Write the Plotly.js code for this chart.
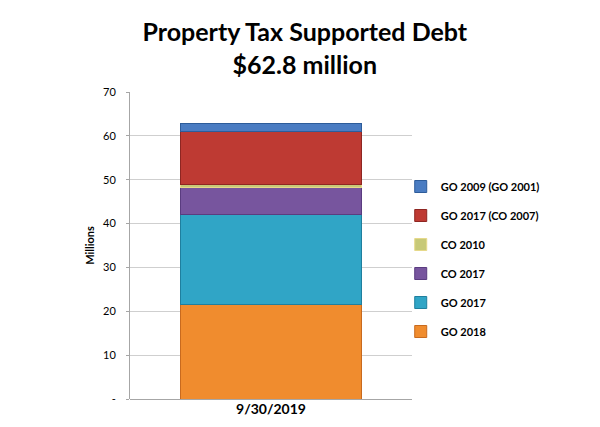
<!DOCTYPE html>
<html><head><meta charset="utf-8">
<script src="https://cdn.plot.ly/plotly-3.0.1.min.js"></script>
<style>html,body{margin:0;padding:0;background:#fff}#chart{width:600px;height:427px}</style>
</head><body><div id="chart"></div>
<script>
const categories = ["9/30/2019"];
const seriesNames = ["GO 2018", "GO 2017", "CO 2017", "CO 2010", "GO 2017 (CO 2007)", "GO 2009 (GO 2001)"];
const go2018 = [21.6];
const go2017 = [20.4];
const co2017 = [6.3];
const co2010 = [0.7];
const go2017co2007 = [12.1];
const go2009go2001 = [1.7];
const tickVals = [0, 10, 20, 30, 40, 50, 60, 70];
const tickLabels = ["-", "10", "20", "30", "40", "50", "60", "70"];

const seriesValues = [go2018, go2017, co2017, co2010, go2017co2007, go2009go2001];
const colors = ["#F08C2E", "#30A5C6", "#77559E", "#C7C978", "#BE3A33", "#4A7CC2"];
const lineColors = ["#C86A1E", "#1F7F9E", "#5A3C80", "#E6D98A", "#8E2622", "#2D5C9A"];

const traces = seriesNames.map((n, i) => ({
  type: "bar", name: "<b>" + n + "</b>", x: categories, y: seriesValues[i],
  marker: {color: colors[i], line: {color: lineColors[i], width: 1}},
  width: 0.64, legendgroup: "g" + i, legendrank: 100 - i, hoverinfo: "name+y"
}));

const layout = {
  width: 600, height: 427,
  margin: {l: 130, r: 188, t: 92, b: 28},
  barmode: "stack",
  paper_bgcolor: "#fff", plot_bgcolor: "#fff",
  font: {family: "Lato, 'Open Sans', sans-serif", color: "#000"},
  title: {text: "<b>Property Tax Supported Debt<br>$62.8 million</b>", x: 0.508, xanchor: "center", y: 0.903, yanchor: "top",
          font: {size: 25, family: "Lato, sans-serif", color: "#000"}},
  xaxis: {tickfont: {size: 14, family: "Lato, sans-serif"}, showline: false, ticks: "", tickprefix: "<b>", ticksuffix: "</b>"},
  yaxis: {range: [0, 70], tickvals: tickVals, ticktext: tickLabels, tickfont: {size: 11, family: "Lato, sans-serif"},
          tickprefix: "<b>", ticksuffix: "</b>",
          showgrid: true, gridcolor: "#cfcfcf", gridwidth: 1, showline: true, linecolor: "#a6a6a6", linewidth: 1,
          ticks: "outside", ticklen: 3, tickcolor: "#a6a6a6", ticklabelstandoff: 8, zeroline: true, zerolinecolor: "#a6a6a6",
          title: {text: "<b>Millions</b>", font: {size: 11, family: "Lato, sans-serif"}, standoff: 6}},
  legend: {x: 0.96, xanchor: "left", y: 0.456, yanchor: "middle", traceorder: "grouped", tracegroupgap: 10,
           font: {size: 11, family: "Lato, sans-serif"}, itemwidth: 30, bgcolor: "rgba(0,0,0,0)"},
  showlegend: true
};
Plotly.newPlot("chart", traces, layout, {displayModeBar: false, staticPlot: true});
</script></body></html>
